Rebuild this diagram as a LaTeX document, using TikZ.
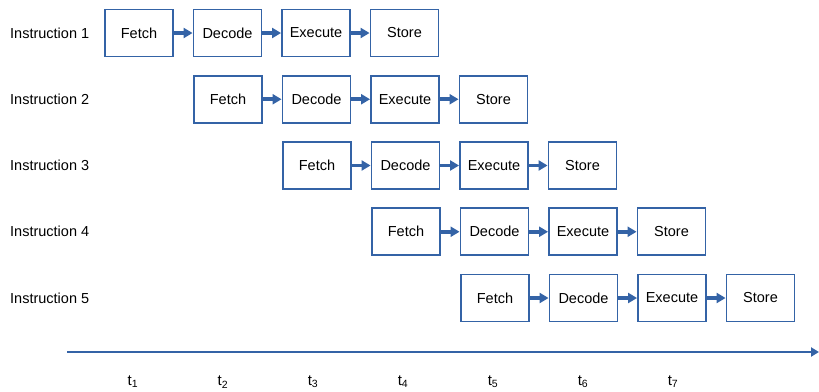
\documentclass[tikz,border=0pt]{standalone}
\usepackage{fontspec}
\setmainfont{Liberation Sans}
\usetikzlibrary{arrows.meta}

\definecolor{pipeblue}{RGB}{52,99,166}

\tikzset{
  stage/.style={draw=pipeblue, line width=1.9pt, fill=white, minimum width=68pt,
    minimum height=47pt, inner sep=0pt, font=\fontsize{14.5}{17}\selectfont},
  flow/.style={draw=pipeblue, line width=3.6pt, -{Triangle[length=9pt,width=10pt]}},
  rowlabel/.style={anchor=west, inner sep=0pt, font=\fontsize{14.5}{17}\selectfont},
  ticklabel/.style={inner sep=0pt, font=\fontsize{15}{17}\selectfont}
}

\begin{document}
\begin{tikzpicture}[x=1pt, y=-1pt]
\useasboundingbox (0,0) rectangle (819,391);
% one row of stages per instruction, shifted one clock to the right each time
\foreach \i in {1,...,5} {
  \pgfmathsetmacro{\rowy}{33+66.25*(\i-1)}
  \pgfmathsetmacro{\rowx}{139+89*(\i-1)}
  \node[rowlabel] (lbl\i) at (10,\rowy) {Instruction \i};
  \foreach \nm [count=\j from 0] in {Fetch,Decode,Execute,Store} {
    \node[stage] (s\i-\j) at ({\rowx+88.5*\j},\rowy) {\nm};
  }
  \draw[flow] (s\i-0) -- (s\i-1);
  \draw[flow] (s\i-1) -- (s\i-2);
  \draw[flow] (s\i-2) -- (s\i-3);
}
% time axis
\coordinate (ax0) at (67,352);
\coordinate (ax1) at (819,352);
\draw[draw=pipeblue, line width=2.8pt, -{Triangle[length=8pt,width=9pt]}] (ax0) -- (ax1);
\foreach \k in {1,...,7} {
  \node[ticklabel] (t\k) at ({133+90*(\k-1)},382) {t\textsubscript{\k}};
}
\end{tikzpicture}
\end{document}
